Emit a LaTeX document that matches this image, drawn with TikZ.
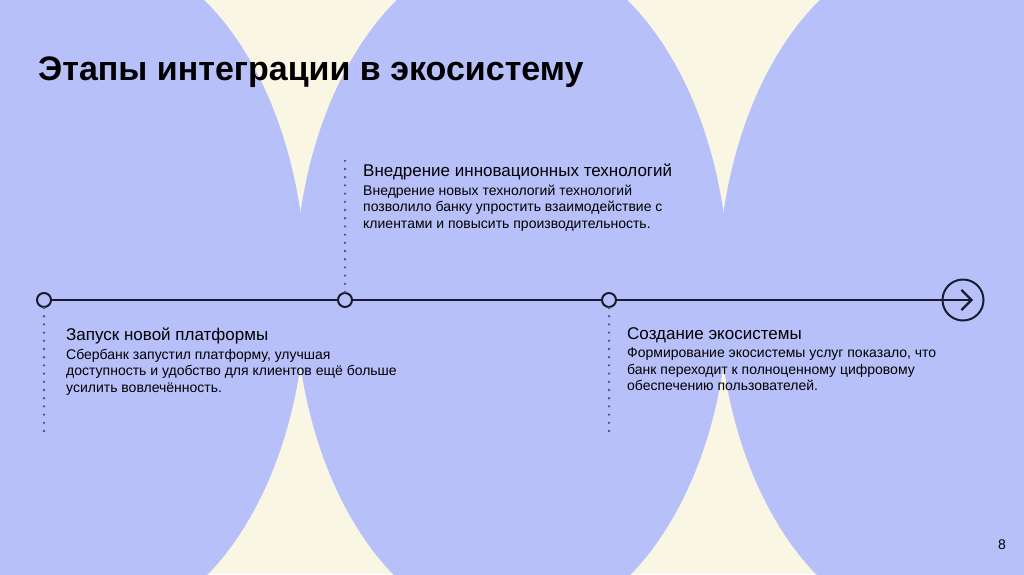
\documentclass[tikz,border=0pt]{standalone}
\usepackage{fontspec}
\setmainfont{Liberation Sans}
\usetikzlibrary{positioning,arrows.meta}
\definecolor{Lav}{RGB}{184,192,250}
\definecolor{Cream}{RGB}{249,247,228}
\definecolor{Ink}{RGB}{26,28,46}
\definecolor{Dots}{RGB}{78,82,118}

\begin{document}
\begin{tikzpicture}[x=1pt,y=-1pt,
 pt/.style={circle,draw=Ink,line width=2pt,minimum size=14pt,inner sep=0pt},
 ln/.style={line width=2.2pt,Ink},
 dt/.style={Dots,line width=2.6pt,line cap=round,dash pattern=on 0pt off 8.2pt},
 hd/.style={anchor=base west,inner sep=0pt,font=\fontsize{17}{20}\selectfont},
 tx/.style={anchor=north west,inner sep=0pt,align=left,font=\fontsize{14}{16.6}\selectfont}]
\useasboundingbox (0,0) rectangle (1024,574);
% backdrop
\fill[Cream] (0,0) rectangle (1024,574);
\begin{scope}
\clip (0,0) rectangle (1024,574);
\foreach \cx in {89,512,935}
 \fill[Lav] (\cx,289) ellipse [x radius=217pt,y radius=341pt];
\end{scope}
\node[anchor=base west,inner sep=0pt,font=\fontsize{34}{38}\selectfont\bfseries] (ttl) at (38,80) {Этапы интеграции в экосистему};
% timeline
\node[pt] (p1) at (44,300) {};
\node[pt] (p2) at (345,300) {};
\node[pt] (p3) at (609,300) {};
\node[circle,draw=Ink,line width=2pt,minimum size=41pt,inner sep=0pt] (fin) at (963,300) {};
\coordinate (tip) at (973,300);
\draw[ln] (p1) -- (p2);
\draw[ln] (p2) -- (p3);
\draw[ln,-{Straight Barb[length=10pt,width=20pt]}] (p3) -- (tip);
% dotted leads
\coordinate (e1) at (44,434);
\coordinate (e2) at (345,160);
\coordinate (e3) at (609,434);
\draw[dt] (p1) -- (e1);
\draw[dt] (p2) -- (e2);
\draw[dt] (p3) -- (e3);
% texts
\node[hd] (h1) at (66,340) {Запуск новой платформы};
\node[tx,below right=5pt and 0pt of h1.south west] (b1) {Сбербанк запустил платформу, улучшая\\доступность и удобство для клиентов ещё больше\\усилить вовлечённость.};
\node[hd] (h2) at (363,176) {Внедрение инновационных технологий};
\node[tx,below right=5pt and 0pt of h2.south west] (b2) {Внедрение новых технологий технологий\\позволило банку упростить взаимодействие с\\клиентами и повысить производительность.};
\node[hd] (h3) at (627,339) {Создание экосистемы};
\node[tx,below right=5pt and 0pt of h3.south west] (b3) {Формирование экосистемы услуг показало, что\\банк переходит к полноценному цифровому\\обеспечению пользователей.};
\node[anchor=base,inner sep=0pt,font=\fontsize{14}{16}\selectfont] (pg) at (1002,549) {8};
\end{tikzpicture}
\end{document}
